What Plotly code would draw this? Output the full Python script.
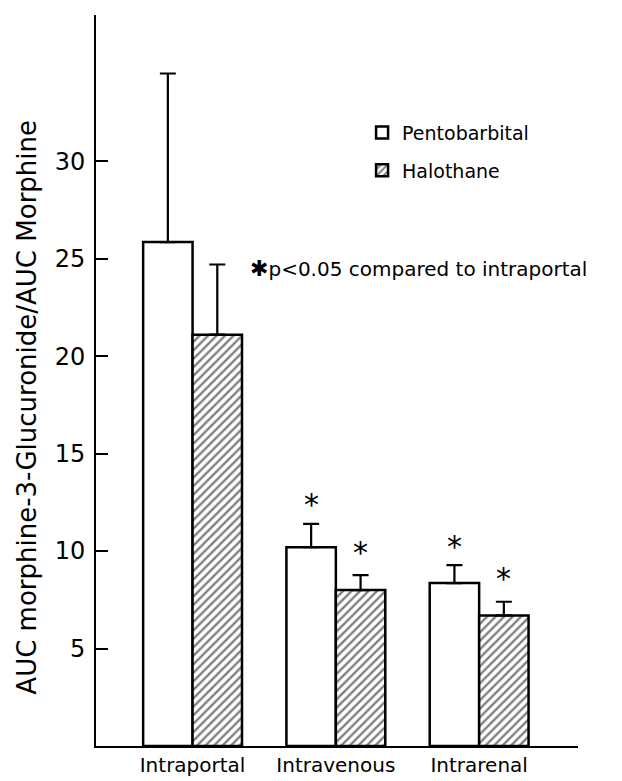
import plotly.graph_objects as go

categories = ["Intraportal", "Intravenous", "Intrarenal"]
pento = [25.85, 10.2, 8.36]
pento_err = [8.65, 1.2, 0.92]
halo = [21.1, 8.0, 6.7]
halo_err = [3.6, 0.77, 0.7]
sig_pento = [False, True, True]
sig_halo = [False, True, True]
yticks = [5, 10, 15, 20, 25, 30]
ytitle = "AUC morphine-3-Glucuronide/AUC Morphine"

FONT = "DejaVu Sans"
xpos = list(range(len(categories)))

fig = go.Figure()
fig.add_trace(go.Bar(
    name="Pentobarbital", x=xpos, y=pento, legendgroup="p",
    marker=dict(color="white", line=dict(color="black", width=2.5)),
    error_y=dict(type="data", array=pento_err, arrayminus=[0]*3, symmetric=False,
                 color="black", thickness=2.2, width=8),
))
fig.add_trace(go.Bar(
    name="Halothane", x=xpos, y=halo, legendgroup="h",
    marker=dict(color="white", line=dict(color="black", width=2.5),
                pattern=dict(shape="/", fgcolor="black", bgcolor="white", size=6, solidity=0.4)),
    error_y=dict(type="data", array=halo_err, arrayminus=[0]*3, symmetric=False,
                 color="black", thickness=2.2, width=8),
))

half = 0.69 / 4
for i in xpos:
    if sig_pento[i]:
        fig.add_annotation(x=i - half, y=pento[i] + pento_err[i], text="*", showarrow=False,
                           yshift=19, font=dict(size=30, family=FONT, color="black"))
    if sig_halo[i]:
        fig.add_annotation(x=i + half, y=halo[i] + halo_err[i], text="*", showarrow=False,
                           yshift=23, font=dict(size=30, family=FONT, color="black"))

fig.add_annotation(xref="paper", yref="y", x=0.315, y=24.5, xanchor="left", yanchor="middle",
                   text="<span style='font-size:22px'>✱</span>p&lt;0.05 compared to intraportal",
                   showarrow=False, font=dict(size=20, family=FONT, color="black"))

# y-axis title as rotated annotation (off-centre as in the reference)
fig.add_annotation(xref="paper", yref="paper", x=-0.145, y=0.463, xanchor="center", yanchor="middle",
                   text=ytitle, textangle=-90, showarrow=False,
                   font=dict(size=26, family=FONT, color="black"))

# page body adds an 8px offset; compensate in size and margins
fig.update_layout(
    width=614, height=773,
    margin=dict(l=88, r=44, t=7, b=35),
    paper_bgcolor="white", plot_bgcolor="white",
    barmode="group", bargap=0.31, bargroupgap=0,
    font=dict(family=FONT, color="black", size=19),
    legend=dict(x=0.552, y=0.865, xanchor="left", yanchor="top", bgcolor="rgba(0,0,0,0)",
                font=dict(size=19, family=FONT), tracegroupgap=10),
    showlegend=True,
)
fig.update_xaxes(range=[-0.674, 2.69], tickvals=xpos, ticktext=categories, showline=True,
                 linecolor="black", linewidth=2, ticks="", showgrid=False, zeroline=False,
                 tickfont=dict(size=20, family=FONT), automargin=False)
fig.update_yaxes(range=[0, 37.5], tickvals=yticks, showline=True, linecolor="black", linewidth=2,
                 ticks="inside", ticklen=12, tickwidth=2, tickcolor="black", showgrid=False,
                 zeroline=False, tickfont=dict(size=24, family=FONT), ticklabelstandoff=4,
                 automargin=False)

fig.write_html("out.html")
